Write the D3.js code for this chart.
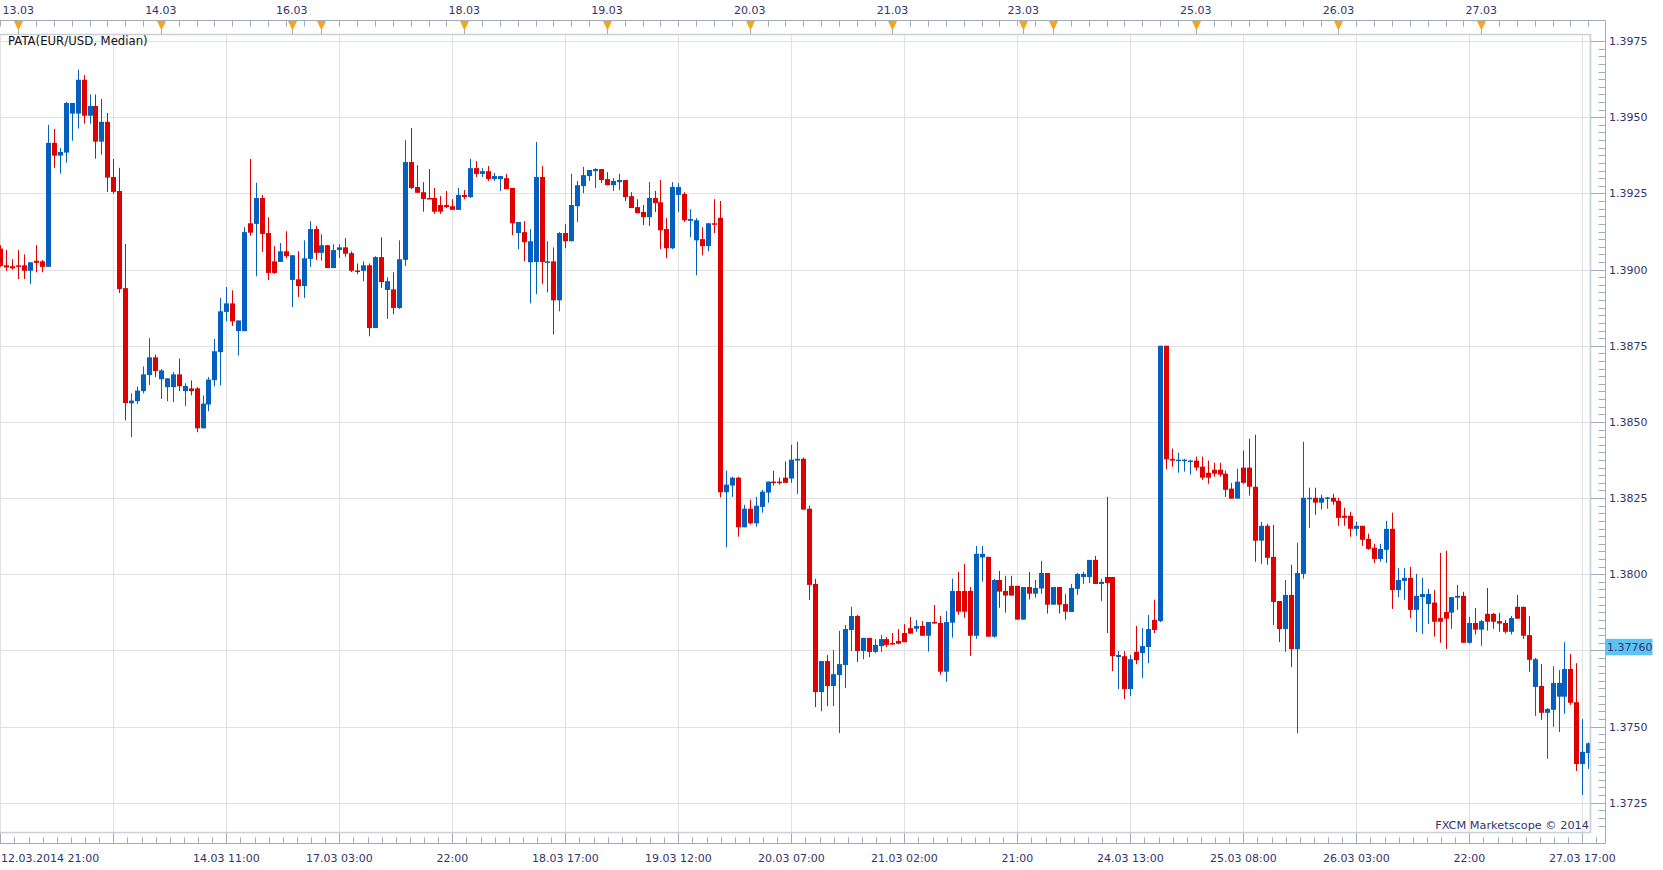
<!DOCTYPE html>
<html><head><meta charset="utf-8">
<script src="https://cdn.jsdelivr.net/npm/d3@7"></script>
<style>
body{margin:0;background:#fff}
svg{display:block}
text{font-family:"DejaVu Sans",Verdana,sans-serif;font-size:11px;fill:#33336b}
</style>
</head><body>
<svg id="c" width="1663" height="870"></svg>
<script>
// trading sessions: [date, first hour, last hour] (hourly bars)
const sessions = [["12.03",21,23],["13.03",0,23],["14.03",0,21],["16.03",19,23],["17.03",0,23],["18.03",0,23],["19.03",0,23],["20.03",0,23],["21.03",0,21],["23.03",19,23],["24.03",0,23],["25.03",0,23],["26.03",0,23],["27.03",0,18]];
const opens = [
1.39069,1.39014,1.39011,1.39014,1.39014,1.38996,1.39029,1.39027,1.39009,1.39416,
1.39374,1.39384,1.39512,1.39512,1.39623,1.39505,1.39537,1.39420,1.39485,1.39304,
1.39258,1.38939,1.38561,1.38568,1.38601,1.38654,1.38712,1.38640,1.38614,1.38614,
1.38656,1.38601,1.38610,1.38610,1.38479,1.38557,1.38637,1.38729,1.38861,1.38889,
1.38798,1.38798,1.39152,1.39150,1.39235,1.39120,1.39027,1.39025,1.39060,1.38966,
1.38968,1.38946,1.39035,1.39133,1.39055,1.39080,1.39005,1.39064,1.39073,1.39054,
1.38997,1.38996,1.39014,1.38808,1.39041,1.38933,1.38935,1.38874,1.39032,1.39353,
1.39271,1.39254,1.39235,1.39235,1.39212,1.39212,1.39208,1.39196,1.39245,1.39238,
1.39333,1.39314,1.39323,1.39297,1.39297,1.39300,1.39268,1.39120,1.39123,1.39024,
1.39025,1.39304,1.39024,1.39027,1.38899,1.39120,1.39093,1.39208,1.39274,1.39307,
1.39323,1.39330,1.39297,1.39277,1.39287,1.39294,1.39241,1.39205,1.39189,1.39172,
1.39235,1.39221,1.39133,1.39070,1.39245,1.39248,1.39160,1.39096,1.39100,1.39077,
1.39152,1.39170,1.38269,1.38291,1.38317,1.38154,1.38215,1.38167,1.38221,1.38268,
1.38304,1.38304,1.38317,1.38314,1.38373,1.38379,1.38215,1.37968,1.37613,1.37715,
1.37633,1.37669,1.37702,1.37817,1.37863,1.37748,1.37791,1.37745,1.37764,1.37787,
1.37774,1.37781,1.37807,1.37823,1.37821,1.37830,1.37798,1.37843,1.37840,1.37680,
1.37841,1.37945,1.37945,1.37945,1.37798,1.38055,1.38057,1.37795,1.37981,1.37945,
1.37962,1.37962,1.37851,1.37958,1.37936,1.37953,1.38004,1.37900,1.37958,1.37902,
1.37876,1.37952,1.37991,1.37991,1.38047,1.37968,1.37991,1.37991,1.37728,1.37731,
1.37623,1.37745,1.37741,1.37761,1.37850,1.37846,1.38750,1.38379,1.38374,1.38371,
1.38371,1.38373,1.38353,1.38333,1.38343,1.38343,1.38330,1.38281,1.38248,1.38350,
1.38350,1.38287,1.38110,1.38159,1.38057,1.37912,1.37820,1.37932,1.37754,1.38001,
1.38248,1.38251,1.38235,1.38250,1.38251,1.38241,1.38192,1.38192,1.38149,1.38159,
1.38116,1.38087,1.38050,1.38080,1.38149,1.37948,1.37978,1.37988,1.37883,1.37925,
1.37902,1.37907,1.37856,1.37876,1.37874,1.37923,1.37929,1.37775,1.37840,1.37818,
1.37870,1.37870,1.37846,1.37840,1.37811,1.37893,1.37893,1.37800,1.37630,1.37633,
1.37545,1.37555,1.37598,1.37598,1.37689,1.37580,1.37377,1.37413];
const highs = [
1.39080,1.39064,1.39034,1.39064,1.39050,1.39024,1.39080,1.39031,1.39475,1.39462,
1.39399,1.39550,1.39547,1.39656,1.39639,1.39575,1.39575,1.39560,1.39514,1.39363,
1.39334,1.39084,1.38594,1.38616,1.38682,1.38775,1.38721,1.38673,1.38643,1.38664,
1.38708,1.38627,1.38636,1.38614,1.38587,1.38647,1.38772,1.38907,1.38943,1.38932,
1.38833,1.39139,1.39363,1.39285,1.39245,1.39172,1.39077,1.39087,1.39126,1.39047,
1.39060,1.39096,1.39159,1.39143,1.39116,1.39080,1.39083,1.39083,1.39103,1.39060,
1.39020,1.39027,1.39020,1.39044,1.39106,1.38975,1.38991,1.39096,1.39425,1.39465,
1.39343,1.39287,1.39330,1.39268,1.39241,1.39258,1.39231,1.39268,1.39261,1.39363,
1.39356,1.39333,1.39340,1.39317,1.39307,1.39314,1.39268,1.39156,1.39159,1.39133,
1.39419,1.39340,1.39093,1.39073,1.39123,1.39149,1.39314,1.39291,1.39337,1.39327,
1.39333,1.39330,1.39320,1.39300,1.39314,1.39294,1.39254,1.39231,1.39212,1.39287,
1.39258,1.39294,1.39169,1.39287,1.39284,1.39254,1.39198,1.39169,1.39139,1.39152,
1.39231,1.39225,1.38340,1.38320,1.38320,1.38228,1.38245,1.38254,1.38277,1.38304,
1.38340,1.38317,1.38370,1.38425,1.38435,1.38383,1.38225,1.37985,1.37715,1.37735,
1.37751,1.37814,1.37833,1.37893,1.37866,1.37791,1.37791,1.37787,1.37800,1.37794,
1.37807,1.37820,1.37836,1.37860,1.37850,1.37846,1.37843,1.37899,1.37863,1.37879,
1.37985,1.38008,1.38034,1.37958,1.38093,1.38093,1.38057,1.37985,1.38011,1.37995,
1.37995,1.37962,1.37958,1.38008,1.37981,1.38044,1.38004,1.37958,1.37958,1.37935,
1.37968,1.38004,1.38008,1.38047,1.38060,1.37985,1.38254,1.37991,1.37748,1.37748,
1.37735,1.37830,1.37823,1.37866,1.37916,1.38750,1.38750,1.38412,1.38399,1.38379,
1.38376,1.38386,1.38386,1.38373,1.38366,1.38366,1.38340,1.38300,1.38346,1.38406,
1.38445,1.38458,1.38172,1.38166,1.38162,1.37912,1.37981,1.38031,1.38103,1.38435,
1.38284,1.38284,1.38261,1.38254,1.38264,1.38251,1.38218,1.38205,1.38172,1.38159,
1.38133,1.38100,1.38100,1.38175,1.38202,1.38021,1.38021,1.38024,1.38001,1.37988,
1.37952,1.37948,1.38070,1.38077,1.37925,1.37965,1.37942,1.37860,1.37889,1.37850,
1.37955,1.37873,1.37873,1.37850,1.37863,1.37932,1.37893,1.37863,1.37725,1.37705,
1.37561,1.37698,1.37685,1.37777,1.37738,1.37708,1.37524,1.37448];
const lows = [
1.39009,1.38996,1.39000,1.38969,1.38969,1.38953,1.38991,1.38991,1.39009,1.39334,
1.39315,1.39351,1.39423,1.39463,1.39479,1.39479,1.39364,1.39377,1.39255,1.39249,
1.38923,1.38505,1.38450,1.38559,1.38594,1.38621,1.38647,1.38575,1.38568,1.38565,
1.38601,1.38552,1.38587,1.38466,1.38479,1.38535,1.38617,1.38620,1.38830,1.38815,
1.38718,1.38798,1.39111,1.38978,1.39058,1.38966,1.38986,1.39025,1.39037,1.38877,
1.38910,1.38907,1.39009,1.39032,1.39029,1.39005,1.39005,1.39038,1.39042,1.38992,
1.38985,1.38962,1.38781,1.38808,1.38940,1.38838,1.38854,1.38871,1.39012,1.39264,
1.39252,1.39190,1.39232,1.39183,1.39183,1.39202,1.39196,1.39196,1.39231,1.39235,
1.39304,1.39304,1.39291,1.39291,1.39258,1.39264,1.39113,1.39067,1.39027,1.38889,
1.38919,1.38952,1.38925,1.38787,1.38863,1.39070,1.39093,1.39156,1.39251,1.39291,
1.39268,1.39284,1.39277,1.39258,1.39261,1.39225,1.39202,1.39185,1.39146,1.39143,
1.39189,1.39067,1.39037,1.39067,1.39189,1.39156,1.39106,1.38981,1.39047,1.39060,
1.39120,1.38252,1.38088,1.38254,1.38123,1.38154,1.38163,1.38156,1.38202,1.38235,
1.38291,1.38294,1.38300,1.38300,1.38264,1.38212,1.37916,1.37564,1.37550,1.37567,
1.37567,1.37479,1.37626,1.37748,1.37712,1.37721,1.37728,1.37741,1.37745,1.37761,
1.37769,1.37770,1.37777,1.37805,1.37811,1.37798,1.37746,1.37838,1.37670,1.37647,
1.37792,1.37867,1.37857,1.37732,1.37788,1.37976,1.37795,1.37792,1.37890,1.37874,
1.37930,1.37851,1.37851,1.37917,1.37923,1.37936,1.37871,1.37900,1.37871,1.37851,
1.37876,1.37932,1.37968,1.37971,1.37968,1.37912,1.37807,1.37682,1.37623,1.37590,
1.37600,1.37705,1.37659,1.37708,1.37807,1.37843,1.38344,1.38353,1.38333,1.38337,
1.38327,1.38340,1.38310,1.38297,1.38320,1.38320,1.38254,1.38248,1.38248,1.38297,
1.38258,1.38041,1.38034,1.38031,1.37833,1.37777,1.37745,1.37695,1.37478,1.37985,
1.38152,1.38195,1.38212,1.38215,1.38228,1.38159,1.38159,1.38123,1.38126,1.38093,
1.38080,1.38037,1.38041,1.38037,1.37886,1.37925,1.37916,1.37856,1.37810,1.37804,
1.37837,1.37795,1.37775,1.37755,1.37821,1.37883,1.37775,1.37772,1.37802,1.37765,
1.37815,1.37821,1.37811,1.37805,1.37802,1.37854,1.37788,1.37680,1.37535,1.37522,
1.37394,1.37499,1.37482,1.37542,1.37571,1.37354,1.37275,1.37361];
const closes = [
1.39012,1.39007,1.39004,1.39009,1.38996,1.39024,1.39022,1.39009,1.39416,1.39374,
1.39386,1.39547,1.39547,1.39623,1.39505,1.39537,1.39420,1.39485,1.39302,1.39255,
1.38936,1.38562,1.38570,1.38603,1.38656,1.38712,1.38667,1.38669,1.38643,1.38656,
1.38617,1.38618,1.38601,1.38479,1.38560,1.38639,1.38732,1.38863,1.38889,1.38830,
1.38833,1.39123,1.39121,1.39235,1.39117,1.38989,1.38989,1.39060,1.39044,1.39047,
1.38946,1.39037,1.39133,1.39055,1.39080,1.39005,1.39064,1.39073,1.39052,1.38996,
1.38995,1.39014,1.38808,1.39041,1.38959,1.38962,1.38874,1.39034,1.39353,1.39268,
1.39252,1.39232,1.39232,1.39190,1.39190,1.39205,1.39196,1.39245,1.39238,1.39333,
1.39314,1.39323,1.39297,1.39307,1.39307,1.39264,1.39152,1.39156,1.39090,1.39093,
1.39304,1.39025,1.39027,1.38899,1.39120,1.39093,1.39212,1.39277,1.39310,1.39327,
1.39330,1.39294,1.39277,1.39291,1.39294,1.39238,1.39202,1.39185,1.39172,1.39235,
1.39218,1.39129,1.39070,1.39271,1.39271,1.39162,1.39166,1.39162,1.39077,1.39152,
1.39149,1.38269,1.38294,1.38317,1.38154,1.38215,1.38167,1.38225,1.38271,1.38304,
1.38300,1.38300,1.38300,1.38376,1.38379,1.38212,1.37965,1.37613,1.37715,1.37633,
1.37672,1.37705,1.37820,1.37863,1.37748,1.37791,1.37745,1.37768,1.37787,1.37768,
1.37769,1.37772,1.37777,1.37805,1.37830,1.37798,1.37843,1.37838,1.37680,1.37843,
1.37945,1.37877,1.37877,1.37798,1.38067,1.38067,1.37795,1.37981,1.37943,1.37930,
1.37930,1.37851,1.37958,1.37936,1.37955,1.38004,1.37900,1.37958,1.37900,1.37877,
1.37955,1.38001,1.38001,1.38047,1.37968,1.37975,1.37971,1.37731,1.37735,1.37623,
1.37721,1.37718,1.37764,1.37820,1.37817,1.38750,1.38377,1.38373,1.38376,1.38376,
1.38373,1.38350,1.38317,1.38317,1.38330,1.38327,1.38277,1.38248,1.38304,1.38300,
1.38287,1.38110,1.38159,1.38054,1.37909,1.37820,1.37932,1.37754,1.38004,1.38251,
1.38251,1.38235,1.38251,1.38252,1.38238,1.38185,1.38185,1.38149,1.38159,1.38113,
1.38083,1.38050,1.38083,1.38149,1.37948,1.37981,1.37988,1.37883,1.37929,1.37935,
1.37935,1.37844,1.37844,1.37854,1.37925,1.37929,1.37775,1.37840,1.37818,1.37846,
1.37844,1.37844,1.37838,1.37811,1.37856,1.37854,1.37798,1.37719,1.37721,1.37545,
1.37558,1.37643,1.37643,1.37689,1.37578,1.37377,1.37417,1.37445];
const priceTicks = [1.3725,1.3750,1.3775,1.3800,1.3825,1.3850,1.3875,1.3900,1.3925,1.3950,1.3975];
const gridEvery = 19;           // bars between vertical grid lines / bottom labels
const lastPrice = 1.37760;
const titleText = "PATA(EUR/USD, Median)";
const creditText = "FXCM Marketscope \u00a9 2014";

// ---- build bar times
const bars = [];
sessions.forEach(([d, h0, h1]) => { for (let h = h0; h <= h1; h++) bars.push({date: d, hour: h}); });
const data = bars.map((b, i) => ({i, ...b, o: opens[i], h: highs[i], l: lows[i], c: closes[i]}));

// ---- layout
const plotL = 0, plotR = 1590.5, plotT = 34, plotB = 832;
const axTop = 20.5, axRight = 1605.5, axBottom = 843.5;

const x = d3.scaleLinear().domain([0, 266]).range([0.3, 1582.3]);
const y = d3.scaleLinear().domain([1.3725, 1.3975]).range([802.7, 41.1]);

const svg = d3.select("#c");
const gridCol = "#e1e1e1", axisCol = "#a3acbb", frameCol = "#c9d0da";
const blue = "#0460c0", red = "#e00000";
const snap = v => Math.round(v) + 0.5;

// horizontal grid
svg.append("g").selectAll("line").data(priceTicks).join("line")
  .attr("x1", plotL).attr("x2", plotR).attr("y1", d => snap(y(d))).attr("y2", d => snap(y(d)))
  .attr("stroke", gridCol);

// vertical grid lines (every 19 bars)
const gridBars = d3.range(0, 267, gridEvery);
svg.append("g").selectAll("line").data(gridBars).join("line")
  .attr("x1", d => snap(x(d))).attr("x2", d => snap(x(d))).attr("y1", plotT).attr("y2", axBottom)
  .attr("stroke", gridCol);
// bottom minor ticks
const minorX = [];
for (let k = 0; k <= 15; k++) for (let j = 1; j < 8; j++) { const xx = x(k * gridEvery + j * gridEvery / 8); if (xx < axRight) minorX.push(xx); }
svg.append("g").selectAll("line").data(minorX).join("line")
  .attr("x1", d => snap(d)).attr("x2", d => snap(d)).attr("y1", axBottom - 6).attr("y2", axBottom)
  .attr("stroke", axisCol);
svg.append("g").selectAll("line").data(gridBars).join("line")
  .attr("x1", d => snap(x(d))).attr("x2", d => snap(x(d))).attr("y1", plotB).attr("y2", axBottom)
  .attr("stroke", axisCol);

// plot frame
svg.append("rect").attr("x", plotL - 1).attr("y", plotT + 0.5).attr("width", plotR - plotL + 1).attr("height", plotB - plotT)
  .attr("fill", "none").attr("stroke", frameCol).attr("stroke-width", 1.5);
// axis frame
svg.append("path").attr("d", `M0,${axTop}H${axRight}V${axBottom}H0`).attr("fill", "none").attr("stroke", axisCol);

// top axis ticks (every 3 hours) and day markers
const topTicks = data.filter(d => d.hour % 3 === 0);
svg.append("g").selectAll("line").data(topTicks).join("line")
  .attr("x1", d => snap(x(d.i))).attr("x2", d => snap(x(d.i))).attr("y1", axTop).attr("y2", axTop + 6)
  .attr("stroke", axisCol);
const dayStarts = data.filter((d, k) => k > 0 && d.date !== data[k - 1].date);
svg.append("g").selectAll("line").data(dayStarts).join("line")
  .attr("x1", d => snap(x(d.i))).attr("x2", d => snap(x(d.i))).attr("y1", axTop).attr("y2", plotT)
  .attr("stroke", axisCol);
svg.append("g").selectAll("path").data(dayStarts).join("path")
  .attr("d", d => { const cx = snap(x(d.i)); return `M${cx - 4.5},${axTop + 0.5}L${cx + 4.5},${axTop + 0.5}L${cx},${axTop + 10}Z`; })
  .attr("fill", "#f6a31e");
let lastShown = -1e9;
const topLabels = dayStarts.filter(d => { const cx = x(d.i); if (cx - lastShown < 42) return false; lastShown = cx; return true; });
svg.append("g").selectAll("text").data(topLabels).join("text")
  .attr("x", d => x(d.i)).attr("y", 13.5).attr("text-anchor", "middle").text(d => d.date);

// bottom labels
let prevDate = null, prevEnd = -1e9;
const bottomLabels = [];
gridBars.forEach((b, k) => {
  const d = data[b];
  const hh = String(d.hour).padStart(2, "0") + ":00";
  const txt = k === 0 ? d.date + ".2014 " + hh : (d.date !== prevDate ? d.date + " " + hh : hh);
  prevDate = d.date;
  const w = txt.length * 6.6;
  const cx = x(b);
  const left = k === 0 ? 1 : cx - w / 2;
  if (left < prevEnd + 6) return;
  prevEnd = left + w;
  bottomLabels.push({txt, anchor: k === 0 ? "start" : "middle", xpos: k === 0 ? 1 : cx});
});
svg.append("g").selectAll("text").data(bottomLabels).join("text")
  .attr("x", d => d.xpos).attr("y", 861.5).attr("text-anchor", d => d.anchor).text(d => d.txt);

// candles
const cg = svg.append("g");
const col = d => d.c >= d.o ? blue : red;
cg.selectAll("rect.w").data(data).join("rect").attr("class", "w")
  .attr("x", d => Math.round(x(d.i))).attr("width", 1)
  .attr("y", d => y(d.h)).attr("height", d => Math.max(1, y(d.l) - y(d.h)))
  .attr("fill", col);
cg.selectAll("rect.b").data(data).join("rect").attr("class", "b")
  .attr("x", d => Math.round(x(d.i)) - 2).attr("width", 5)
  .attr("y", d => y(Math.max(d.o, d.c))).attr("height", d => Math.max(1.5, Math.abs(y(d.o) - y(d.c))))
  .attr("fill", col);

// right axis strip (covers the part of the last bar beyond the frame)
svg.append("rect").attr("x", plotR + 0.8).attr("y", plotT).attr("width", axRight - plotR - 1.3).attr("height", plotB - plotT).attr("fill", "#fff");
svg.append("line").attr("x1", plotR).attr("x2", plotR).attr("y1", plotT).attr("y2", plotB).attr("stroke", frameCol).attr("stroke-width", 1.5);
svg.append("g").selectAll("line").data(priceTicks).join("line")
  .attr("x1", plotR).attr("x2", axRight).attr("y1", d => snap(y(d))).attr("y2", d => snap(y(d))).attr("stroke", axisCol);
const minorP = d3.range(0, 106).map(k => 1.37150 + k * 0.00025).filter(p => y(p) > plotT && y(p) < plotB);
svg.append("g").selectAll("line").data(minorP).join("line")
  .attr("x1", axRight - 7).attr("x2", axRight).attr("y1", d => snap(y(d))).attr("y2", d => snap(y(d))).attr("stroke", axisCol);

// price labels (the one hidden under the last-price marker is skipped)
const ly = y(lastPrice);
svg.append("g").selectAll("text").data(priceTicks.filter(p => Math.abs(y(p) - ly) > 14)).join("text")
  .attr("x", 1609).attr("y", d => y(d) + 4).text(d => d.toFixed(4));

// last price marker
svg.append("rect").attr("x", axRight).attr("y", ly - 8.5).attr("width", 47).attr("height", 16.5).attr("fill", "#5ec3f4");
svg.append("text").attr("x", 1607).attr("y", ly + 4).text(lastPrice.toFixed(5));

// texts
svg.append("text").attr("x", 8).attr("y", 45).style("fill", "#111").style("font-size", "11.7px").text(titleText);
svg.append("text").attr("x", 1589).attr("y", 829).attr("text-anchor", "end").style("font-size", "11.3px").text(creditText);
</script>
</body></html>
